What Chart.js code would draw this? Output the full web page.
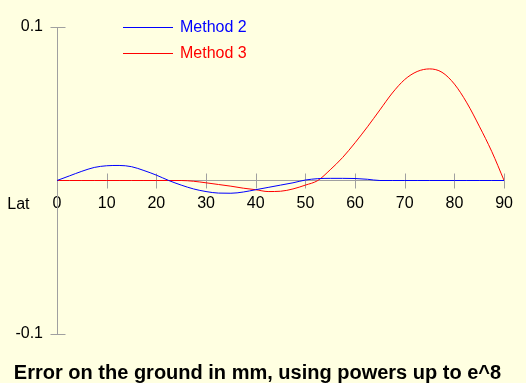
<!DOCTYPE html>
<html>
<head>
<meta charset="utf-8">
<script src="https://cdn.jsdelivr.net/npm/chart.js@4"></script>
<style>
  html, body { margin: 0; padding: 0; background: #ffffe1; }
  canvas { display: block; }
</style>
</head>
<body>
<canvas id="chart" width="526" height="383"></canvas>
<script>
const lats = [0, 2.5, 5, 7.5, 10, 12.5, 15, 17.5, 20, 22.5, 25, 27.5, 30, 32.5, 35, 37.5, 40, 42.5, 45,
    47.5, 50, 52.5, 55, 57.5, 60, 62.5, 65, 67.5, 70, 72.5, 75, 77.5, 80, 82.5, 85, 87.5, 90];
const method2 = [0, 0.003, 0.006, 0.0085, 0.0096, 0.0098, 0.009, 0.0065, 0.0035, 0, -0.003, -0.0055, -0.0072,
    -0.0082, -0.0083, -0.0075, -0.006, -0.0045, -0.003, -0.0015, 0.0003, 0.0012, 0.0014, 0.0014, 0.0013, 0.0008,
    0, 0, 0, 0, 0, 0, 0, 0, 0, 0, 0];
const method3 = [0, 0, 0, 0, 0, 0, 0, 0, 0, 0, 0, -0.0005, -0.0015, -0.0026, -0.0037, -0.005, -0.006, -0.0072,
    -0.007, -0.0055, -0.003, 0, 0.007, 0.015, 0.0246, 0.035, 0.046, 0.057, 0.0658, 0.071, 0.0727, 0.0705, 0.0628,
    0.0506, 0.0354, 0.019, 0];
const seriesNames = ["Method 2", "Method 3"];
const yTicks = [-0.1, 0, 0.1];

const axisGray = "#a0a0a0";
const font = { family: "'Liberation Sans', Arial, sans-serif", size: 16 };

function points(values) {
    return lats.map((lat, i) => ({ x: lat, y: values[i] }));
}

// background, tick crosses, "Lat" label and the little legend
const extras = {
    id: "extras",
    beforeDraw(chart) {
        const c = chart.ctx;
        c.save();
        c.fillStyle = "#ffffe1";
        c.fillRect(0, 0, chart.width, chart.height);
        c.restore();
    },
    beforeDatasetsDraw(chart) {
        const c = chart.ctx;
        const xs = chart.scales.x;
        const ys = chart.scales.y;
        const y0 = Math.round(ys.getPixelForValue(0)) + 0.5;
        const left = Math.round(chart.chartArea.left) + 0.5;
        c.save();
        c.strokeStyle = axisGray;
        c.lineWidth = 1;
        c.beginPath();
        xs.ticks.forEach(t => {
            if (t.value === 0) return;
            const px = Math.round(xs.getPixelForValue(t.value)) + 0.5;
            c.moveTo(px, y0 - 8);
            c.lineTo(px, y0 + 7);
        });
        yTicks.forEach(v => {
            if (v === 0) return;
            const py = Math.round(ys.getPixelForValue(v)) + 0.5;
            c.moveTo(left - 7, py);
            c.lineTo(left + 8, py);
        });
        c.stroke();

        c.font = "16px " + font.family;
        c.fillStyle = "#000";
        c.textAlign = "right";
        c.textBaseline = "middle";
        c.fillText("Lat", left - 28, y0 + 13 + 9.6);
        c.restore();
    },
    afterDraw(chart) {
        const c = chart.ctx;
        c.save();
        c.font = "16px " + font.family;
        c.textBaseline = "middle";
        c.textAlign = "left";
        chart.data.datasets.forEach((ds, i) => {
            const y = 28 + i * 25.5;
            c.fillStyle = ds.borderColor;
            c.fillRect(123, Math.round(y) - 1, 50, 1);
            c.fillText(ds.label, 180, y);
        });
        c.restore();
    }
};

new Chart(document.querySelector("#chart").getContext("2d"), {
    type: "line",
    data: {
        datasets: [
            {
                label: seriesNames[0],
                data: points(method2),
                borderColor: "#0000ff",
                borderWidth: 1,
                pointRadius: 0,
                cubicInterpolationMode: "monotone",
            },
            {
                label: seriesNames[1],
                data: points(method3),
                borderColor: "#ff0000",
                borderWidth: 1,
                pointRadius: 0,
                cubicInterpolationMode: "monotone",
            },
        ],
    },
    options: {
        responsive: false,
        animation: false,
        layout: { padding: { top: 27, right: 11, left: 0, bottom: 0 } },
        plugins: {
            legend: { display: false },
            tooltip: { enabled: false },
            title: {
                display: true,
                position: "bottom",
                text: "Error on the ground in mm, using powers up to e^8",
                color: "#000",
                font: { family: font.family, size: 20, weight: "bold", lineHeight: 1 },
                padding: { top: 29, bottom: 0 },
            },
        },
        scales: {
            x: {
                type: "linear",
                min: 0,
                max: 90,
                position: { y: 0 },
                grid: { display: false, drawTicks: false },
                border: { color: axisGray },
                ticks: { stepSize: 10, padding: 13, color: "#000", font: font },
            },
            y: {
                type: "linear",
                min: -0.1,
                max: 0.1,
                grid: { display: false, drawTicks: false },
                border: { color: axisGray },
                afterBuildTicks: scale => { scale.ticks = yTicks.map(v => ({ value: v })); },
                ticks: {
                    padding: 14,
                    color: "#000",
                    font: font,
                    callback: v => (v === 0 ? "" : String(v)),
                },
                afterFit: scale => { scale.width = 57; },
            },
        },
    },
    plugins: [extras],
});
</script>
</body>
</html>
